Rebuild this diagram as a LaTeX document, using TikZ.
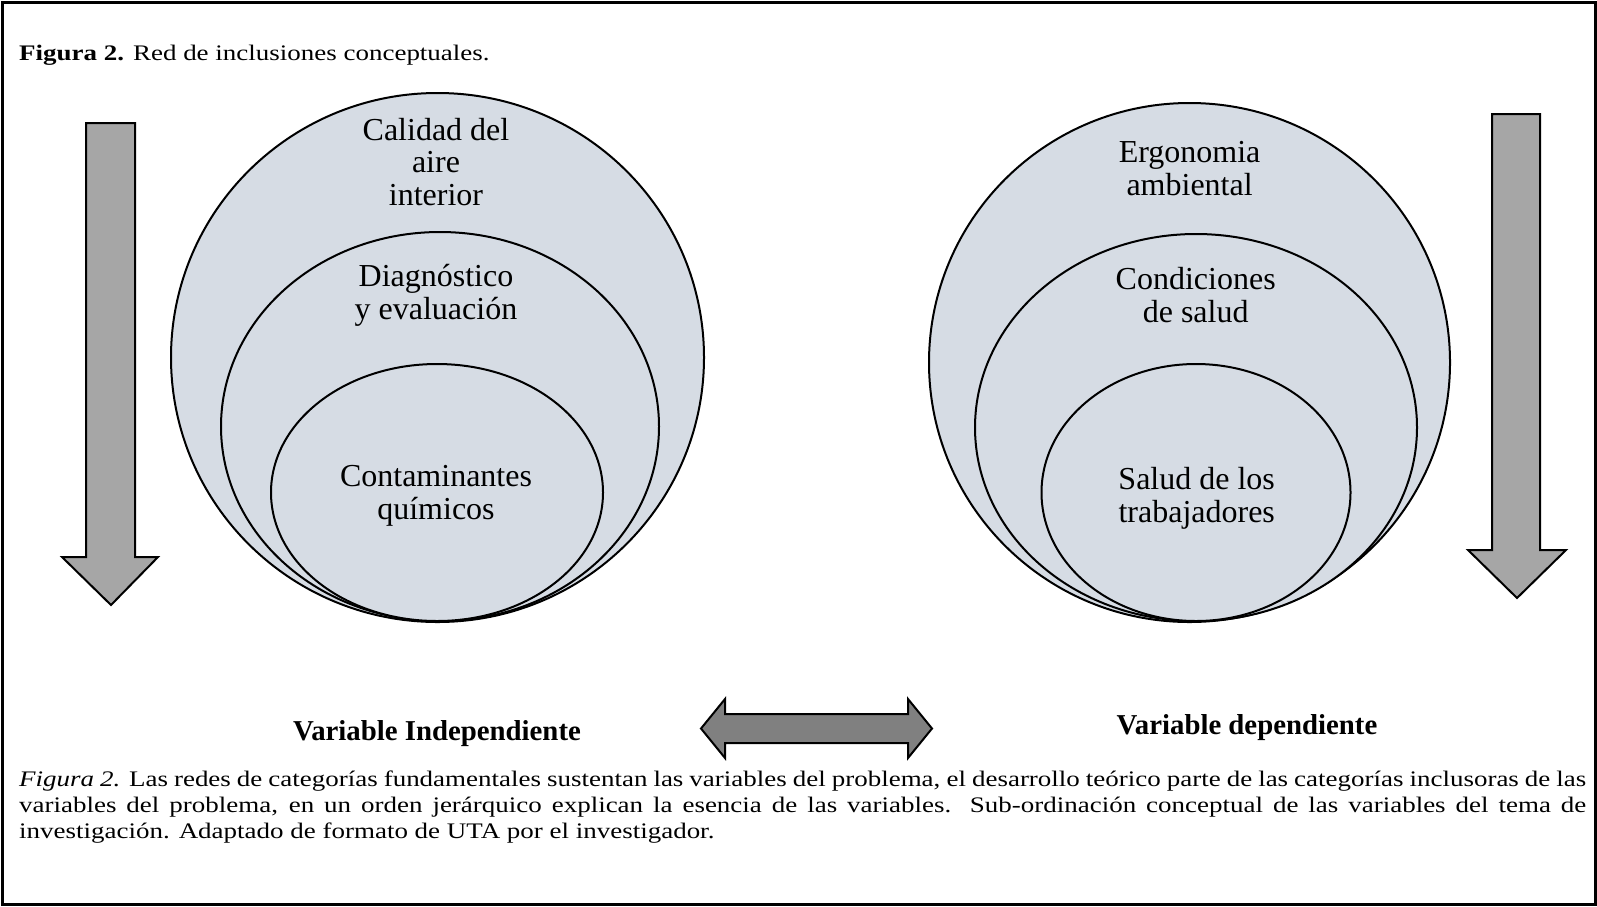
\documentclass[tikz,border=0pt]{standalone}
\usepackage{fontspec}
\setmainfont{Liberation Serif}
\newfontfamily\capfont{Liberation Serif}[FakeStretch=1.215]
\usetikzlibrary{shapes.geometric}
\definecolor{circfill}{HTML}{D6DCE4}
\definecolor{arrowgray}{HTML}{A6A6A6}
\definecolor{dblgray}{HTML}{808080}
\begin{document}
\begin{tikzpicture}[x=1pt,y=-1pt,
  circ/.style={ellipse, draw=black, line width=2pt, fill=circfill, inner sep=0pt, outer sep=0pt},
  lbl/.style={align=center, font=\fontsize{32}{32.7}\selectfont, inner sep=0pt},
  varlbl/.style={font=\fontsize{28.8}{30}\selectfont\bfseries, inner sep=0pt, anchor=base},
  bigarrow/.style={draw=black, line width=2pt, fill=arrowgray, line join=miter},
  dblarrow/.style={draw=black, line width=2pt, fill=dblgray, line join=miter},
]
\useasboundingbox (0,0) rectangle (1597,906);
\draw[line width=3pt] (2,2) rectangle (1595,904);

% title
\node[anchor=base west, inner sep=0pt, font=\capfont\fontsize{22.2}{26}\selectfont] (title) at (19,60)
  {\textbf{Figura 2.} Red de inclusiones conceptuales.};

% left set
\node[circ, minimum width=533pt, minimum height=529pt] (lo) at (437.5,357.5) {};
\node[circ, minimum width=438pt, minimum height=389pt] (lm) at (440,426.5) {};
\node[circ, minimum width=332pt, minimum height=257pt] (li) at (437,492.5) {};
\node[lbl] (lot) at (436,162) {Calidad del\\aire\\interior};
\node[lbl] (lmt) at (436,295.3) {Diagnóstico\\y evaluación};
\node[lbl] (lit) at (436,495.9) {Contaminantes\\químicos};

% right set
\node[circ, minimum width=521pt, minimum height=519pt] (ro) at (1189.5,362.5) {};
\node[circ, minimum width=442pt, minimum height=387pt] (rm) at (1196,427.5) {};
\node[circ, minimum width=309pt, minimum height=257pt] (ri) at (1196,492.5) {};
\node[lbl] (rot) at (1189.6,168.5) {Ergonomia\\ambiental};
\node[lbl] (rmt) at (1195.7,294.8) {Condiciones\\de salud};
\node[lbl] (rit) at (1196.7,498) {Salud de los\\trabajadores};

% vertical arrows
\path[bigarrow] (86,123) -- (135,123) -- (135,557) -- (158,557) -- (111,605) -- (62,557) -- (86,557) -- cycle;
\path[bigarrow] (1492,114) -- (1540,114) -- (1540,550) -- (1566,550) -- (1517,598) -- (1468,550) -- (1492,550) -- cycle;

% double arrow
\path[dblarrow] (701,728.5) -- (725,699) -- (725,714) -- (908,714) -- (908,699) -- (932,728.5) -- (908,758) -- (908,743) -- (725,743) -- (725,758) -- cycle;

% variable labels
\node[varlbl] (vi) at (437,740) {Variable Independiente};
\node[varlbl] (vd) at (1247,734.5) {Variable dependiente};

% caption
\node[anchor=north west, text width=1567pt, align=justify, inner sep=0pt,
      font=\capfont\fontsize{22.2}{26}\selectfont] (cap) at (19,771)
  {\hyphenpenalty=10000\exhyphenpenalty=10000
   \textit{Figura 2.} Las redes de categorías fundamentales sustentan las variables del problema, el desarrollo teórico parte de las categorías inclusoras de las\linebreak
   variables del problema, en un orden jerárquico explican la esencia de las variables. Sub-ordinación conceptual de las variables del tema de\linebreak
   investigación. Adaptado de formato de UTA por el investigador.};
\end{tikzpicture}
\end{document}
